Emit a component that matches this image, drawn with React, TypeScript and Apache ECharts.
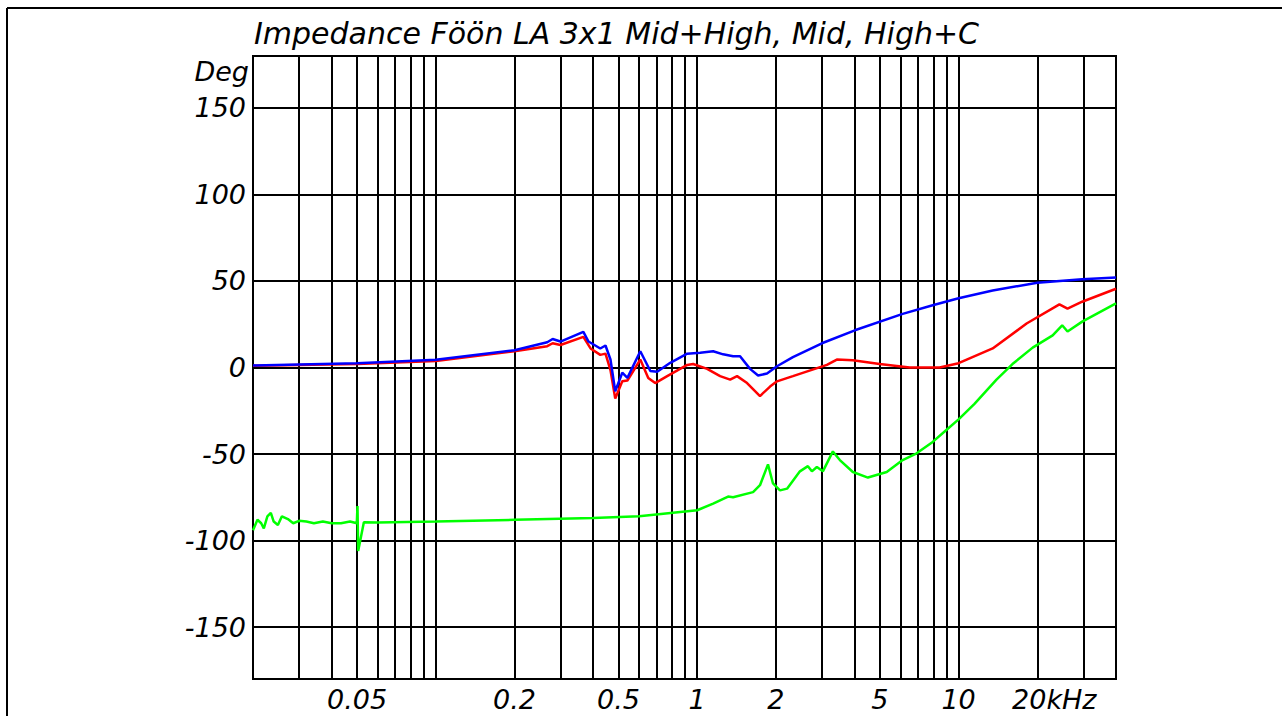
import React, { useEffect, useRef } from 'react';
import * as echarts from 'echarts';

const TITLE = 'Impedance Föön LA 3x1 Mid+High, Mid, High+C';
const Y_NAME = 'Deg';

const X_GRID_FREQS = [0.03, 0.04, 0.05, 0.06, 0.07, 0.08, 0.09, 0.1, 0.2, 0.3, 0.4, 0.5, 0.6, 0.7, 0.8, 0.9, 1, 2, 3, 4, 5, 6, 7, 8, 9, 10, 20, 30];
const X_LABEL_FREQS = [0.05, 0.2, 0.5, 1, 2, 5, 10, 20];
const X_LABEL_TEXT = ['0.05', '0.2', '0.5', '1', '2', '5', '10', '20kHz'];
const Y_TICKS = [-150, -100, -50, 0, 50, 100, 150];

// Mid+High (blue)
const freqBlue = [0.02, 0.05, 0.1, 0.2, 0.267, 0.28, 0.3, 0.367, 0.384, 0.426, 0.446, 0.466, 0.486, 0.517, 0.541, 0.606, 0.662, 0.703, 0.789, 0.916, 1.027, 1.151, 1.257, 1.372, 1.459, 1.593, 1.71, 1.85, 2.02, 2.324, 3.0, 4.01, 6.11, 7.96, 10, 13.5, 20, 29.7, 40];
const degBlue = [1.2, 2.5, 4.5, 10, 14.6, 16.5, 15, 20.6, 15, 11, 12.7, 4.6, -13.7, -3, -6, 9.4, -2, -2.5, 2.7, 8, 8.5, 9.4, 7.6, 6.5, 6.5, -0.8, -4.6, -3.5, 0.7, 6, 14, 21.5, 31, 36, 40, 44.5, 49, 51, 52];

// Mid (red)
const freqRed = [0.02, 0.05, 0.1, 0.2, 0.267, 0.28, 0.3, 0.367, 0.391, 0.426, 0.446, 0.466, 0.486, 0.517, 0.541, 0.606, 0.65, 0.691, 0.768, 0.916, 0.965, 1.092, 1.224, 1.337, 1.421, 1.552, 1.739, 1.9, 2.02, 2.324, 3.135, 3.422, 3.94, 4.99, 6.5, 8.46, 10, 13.5, 18.2, 24.3, 26.1, 29.7, 40];
const degRed = [1, 2, 3.8, 9.4, 12.3, 14, 13, 17.7, 11, 7.3, 8, -1.5, -18, -8, -7.5, 4.6, -6, -9, -5, 1.5, 2, -0.8, -5, -7, -5, -9, -16.5, -11, -8, -5, 1.5, 4.6, 4.2, 2, 0, 0, 2.5, 11, 25.4, 36.5, 34, 38, 45.5];

// High+C (green)
const freqGreen = [0.02, 0.0208, 0.0215, 0.022, 0.0227, 0.0234, 0.024, 0.0249, 0.0258, 0.0272, 0.0285, 0.03, 0.032, 0.0342, 0.037, 0.04, 0.0434, 0.047, 0.0499, 0.0502, 0.0505, 0.0531, 0.06, 0.1, 0.2, 0.4, 0.6, 1.0, 1.151, 1.313, 1.372, 1.636, 1.739, 1.866, 1.95, 2.074, 2.207, 2.472, 2.652, 2.747, 2.87, 3.026, 3.304, 3.514, 3.94, 4.5, 5.31, 6.11, 6.91, 7.96, 9.0, 10, 11.5, 13.96, 16.07, 19.2, 22.9, 24.9, 26.1, 29.7, 40];
const degGreen = [-94, -88, -90, -93, -86, -84, -89, -91, -86, -87.6, -90, -88.6, -89, -90, -89, -90, -90, -89, -90, -80, -106, -89.4, -89.5, -89, -88, -87, -86, -82.5, -78.7, -74.6, -75, -72, -68, -56, -67, -71, -70, -60, -57, -60, -57.5, -60, -48.5, -53.5, -60.4, -63.6, -60.4, -53.5, -49.6, -43, -36, -30, -21, -7, 2, 11.5, 18.6, 24.4, 20.8, 26.5, 37];

const X_MIN = 0.02;
const X_MAX = 40;
const Y_MIN = -180;
const Y_MAX = 180;

const FONT = 'DejaVu Sans';

const toPairs = (f: number[], d: number[]) => f.map((v, i) => [Math.log10(v), d[i]]);

export default function App() {
  const ref = useRef<HTMLDivElement>(null);

  useEffect(() => {
    if (!ref.current) return;
    const chart = echarts.init(ref.current, undefined, { renderer: 'svg' });
    const xFmt = (v: number) => {
      const i = X_LABEL_FREQS.findIndex((f) => Math.abs(Math.log10(f) - v) < 1e-6);
      if (i < 0) return '';
      if (X_LABEL_TEXT[i].endsWith('kHz')) return '{u|' + X_LABEL_TEXT[i] + '}';
      return X_LABEL_TEXT[i];
    };
    const lineSeries = (name: string, color: string, f: number[], d: number[]) => ({
      name,
      type: 'line',
      data: toPairs(f, d),
      showSymbol: false,
      symbol: 'none',
      lineStyle: { color, width: 2.5 },
      itemStyle: { color },
      z: 3,
    });
    chart.setOption({
      animation: false,
      backgroundColor: '#ffffff',
      title: {
        text: TITLE,
        left: 249,
        top: 13,
        textStyle: { fontFamily: FONT, fontStyle: 'italic', fontWeight: 'normal', fontSize: 30, color: '#000' },
      },
      grid: {
        left: 253,
        right: 166,
        top: 56,
        bottom: 37,
        show: true,
        borderColor: '#000',
        borderWidth: 2,
        backgroundColor: 'transparent',
      },
      xAxis: {
        type: 'value',
        min: Math.log10(X_MIN),
        max: Math.log10(X_MAX),
        axisLine: { show: false },
        axisTick: { show: false, customValues: X_GRID_FREQS.map((f) => Math.log10(f)) },
        splitLine: { show: true, lineStyle: { color: '#000', width: 2 } },
        axisLabel: {
          customValues: X_LABEL_FREQS.map((f) => Math.log10(f)),
          formatter: xFmt,
          fontFamily: FONT,
          fontStyle: 'italic',
          fontSize: 27,
          color: '#000',
          margin: 7,
          rich: {
            u: { fontFamily: FONT, fontStyle: 'italic', fontSize: 27, color: '#000', padding: [0, 0, 0, 34] },
          },
        },
      },
      yAxis: {
        type: 'value',
        min: Y_MIN,
        max: Y_MAX,
        axisLine: { show: false },
        axisTick: { show: false, customValues: Y_TICKS },
        splitLine: { show: true, lineStyle: { color: '#000', width: 2 } },
        axisLabel: {
          customValues: Y_TICKS,
          fontFamily: FONT,
          fontStyle: 'italic',
          fontSize: 27,
          color: '#000',
          margin: 7,
        },
      },
      graphic: [
        { type: 'line', shape: { x1: 7, y1: 8, x2: 1282, y2: 8 }, style: { stroke: '#000', lineWidth: 2 } },
        { type: 'line', shape: { x1: 7, y1: 8, x2: 7, y2: 716 }, style: { stroke: '#000', lineWidth: 2 } },
        {
          type: 'text',
          right: 1282 - 249,
          top: 58,
          style: { text: Y_NAME, font: 'italic 27px "DejaVu Sans"', fill: '#000' },
        },
      ],
      series: [
        lineSeries('High+C', '#00ff00', freqGreen, degGreen),
        lineSeries('Mid', '#ff0000', freqRed, degRed),
        lineSeries('Mid+High', '#0000ff', freqBlue, degBlue),
      ],
    });
    return () => chart.dispose();
  }, []);

  return (
    <div
      ref={ref}
      style={{ position: 'fixed', left: 0, top: 0, width: 1282, height: 716, background: '#fff' }}
    />
  );
}
